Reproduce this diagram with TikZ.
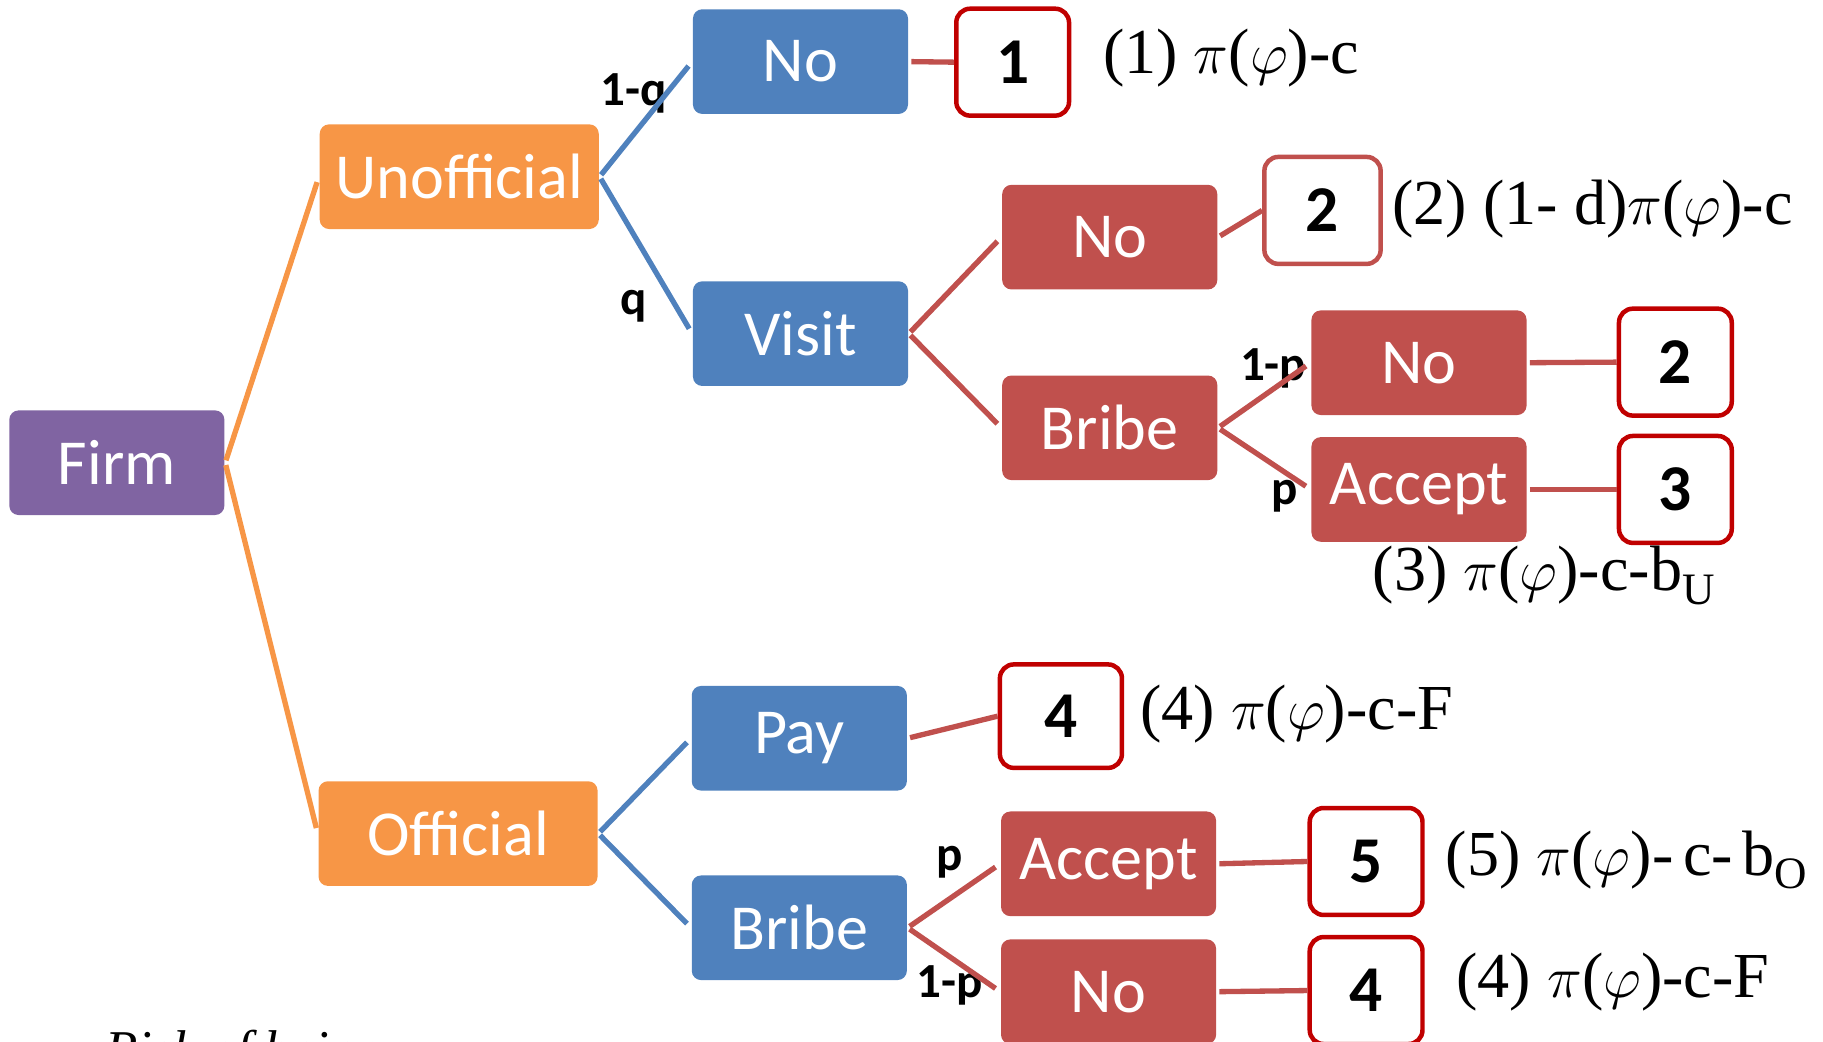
\documentclass[tikz,border=0pt]{standalone}
\usepackage{fontspec}
\setmainfont{Liberation Serif}
\newfontfamily\boxfont{Carlito}
\usetikzlibrary{positioning}
\definecolor{firmpurple}{HTML}{8064A2}
\definecolor{offorange}{HTML}{F79646}
\definecolor{offblue}{HTML}{4F81BD}
\definecolor{offred}{HTML}{C0504D}
\definecolor{outred}{HTML}{C00000}
\newcommand{\lowsub}[1]{\raisebox{-0.45ex}{\fontsize{11}{11}\selectfont #1}}

\begin{document}
\begin{tikzpicture}[every node/.style={font=\boxfont}]
  % Styles
  \tikzset{
    choice/.style = {shape=rectangle, rounded corners=0.8mm, minimum width=18.5mm, minimum height=9mm, inner sep=0pt, text=white, font=\boxfont\fontsize{15.7}{18}\selectfont},
    firmbox/.style = {choice, fill=firmpurple},
    route/.style = {choice, fill=offorange, minimum width=24mm},
    inspector/.style = {choice, fill=offblue},
    reply/.style = {choice, fill=offred},
    outcome/.style = {draw=outred, line width=1.1pt, fill=white, rounded corners=1.2mm, minimum width=9.7mm, minimum height=9.2mm, inner sep=0pt, font=\boxfont\bfseries\fontsize{16}{19}\selectfont},
    payoff/.style = {anchor=west, inner sep=0pt, font=\rmfamily\fontsize{15.7}{19}\selectfont},
    prob/.style = {inner sep=0pt, font=\boxfont\bfseries\fontsize{12}{14}\selectfont},
    caption/.style = {anchor=base west, inner sep=0pt, font=\rmfamily\itshape\fontsize{13}{15}\selectfont},
    link/.style = {line width=1.3pt, shorten <=0.6pt},
    branch/.style = {link, shorten >=1.4pt}
  }

  \useasboundingbox (0,0) rectangle (15.68,8.96);

  % Decision nodes
  \node[firmbox] (Firm) at (1.005,4.98) {Firm};
  \node[route] (Unofficial) at (3.95,7.44) {Unofficial};
  \node[route] (Official) at (3.94,1.79) {Official};

  \node[inspector] (UnoffNo) at (6.885,8.43) {No};
  \node[inspector] (Visit) at (6.885,6.09) {Visit};
  \node[inspector] (Pay) at (6.875,2.61) {Pay};
  \node[inspector] (OffBribe) at (6.875,0.98) {Bribe};

  \node[reply] (VisitNo) at (9.545,6.92) {No};
  \node[reply] (VisitBribe) at (9.545,5.28) {Bribe};
  \node[reply] (BribeNo) at (12.205,5.84) {No};
  \node[reply] (BribeAccept) at (12.205,4.75) {Accept};
  \node[reply] (OffAccept) at (9.535,1.53) {Accept};
  \node[reply] (OffNo) at (9.535,0.43) {No};

  % Outcomes
  \node[outcome] (OutOne) at (8.71,8.425) {1};
  \node[outcome, draw=offred, minimum width=10mm] (OutTwoA) at (11.375,7.15) {2};
  \node[outcome] (OutTwoB) at (14.41,5.845) {2};
  \node[outcome] (OutThree) at (14.41,4.75) {3};
  \node[outcome, minimum width=10.5mm, minimum height=8.9mm] (OutFourA) at (9.125,2.80) {4};
  \node[outcome] (OutFive) at (11.75,1.55) {5};
  \node[outcome] (OutFourB) at (11.75,0.44) {4};

  % Payoffs
  \node[payoff] (PayOne) at (9.48,8.46) {(1) $\pi$($\varphi$)-c};
  \node[payoff] (PayTwo) at (11.97,7.16) {(2) (1- d)$\pi$($\varphi$)-c};
  \node[payoff] (PayThree) at (11.80,4.01) {(3) $\pi$($\varphi$)-c-b\lowsub{U}};
  \node[payoff] (PayFourA) at (9.80,2.82) {(4) $\pi$($\varphi$)-c-F};
  \node[payoff] (PayFive) at (12.43,1.56) {(5) $\pi$($\varphi$)-\hspace{0.15em}c-\hspace{0.15em}b\lowsub{O}};
  \node[payoff] (PayFourB) at (12.52,0.51) {(4) $\pi$($\varphi$)-c-F};

  % Probabilities
  \node[prob] (ProbOneQ) at (5.45,8.16) {1-q};
  \node[prob] (ProbQ) at (5.45,6.33) {q};
  \node[prob] (ProbOneP) at (10.95,5.79) {1-p};
  \node[prob] (ProbP) at (11.05,4.69) {p};
  \node[prob] (ProbPLow) at (8.17,1.54) {p};
  \node[prob] (ProbOnePLow) at (8.17,0.48) {1-p};

  % Caption (cut by the page)
  \node[caption] (Caption) at (0.90,-0.22) {Risk of being};

  % Connections
  \draw[branch, offorange] (Firm.east) -- (Unofficial.west);
  \draw[branch, offorange] (Firm.east) -- (Official.west);

  \draw[branch, offblue] (Unofficial.east) -- (UnoffNo.west);
  \draw[branch, offblue] (Unofficial.east) -- (Visit.west);
  \draw[branch, offblue] (Official.east) -- (Pay.west);
  \draw[branch, offblue] (Official.east) -- (OffBribe.west);

  \draw[branch, offred] (Visit.east) -- (VisitNo.west);
  \draw[branch, offred] (Visit.east) -- (VisitBribe.west);
  \draw[branch, offred] (VisitBribe.east) -- (BribeNo.west);
  \draw[branch, offred] (VisitBribe.east) -- (BribeAccept.west);
  \draw[branch, offred] (OffBribe.east) -- (OffAccept.west);
  \draw[branch, offred] (OffBribe.east) -- (OffNo.west);

  % Outcome connections
  \draw[link, offred] (UnoffNo.east) -- (OutOne.west);
  \draw[link, offred] (VisitNo.east) -- (OutTwoA.west);
  \draw[link, offred] (BribeNo.east) -- (OutTwoB.west);
  \draw[link, offred] (BribeAccept.east) -- (OutThree.west);
  \draw[link, offred] (Pay.east) -- (OutFourA.west);
  \draw[link, offred] (OffAccept.east) -- (OutFive.west);
  \draw[link, offred] (OffNo.east) -- (OutFourB.west);

\end{tikzpicture}
\end{document}
